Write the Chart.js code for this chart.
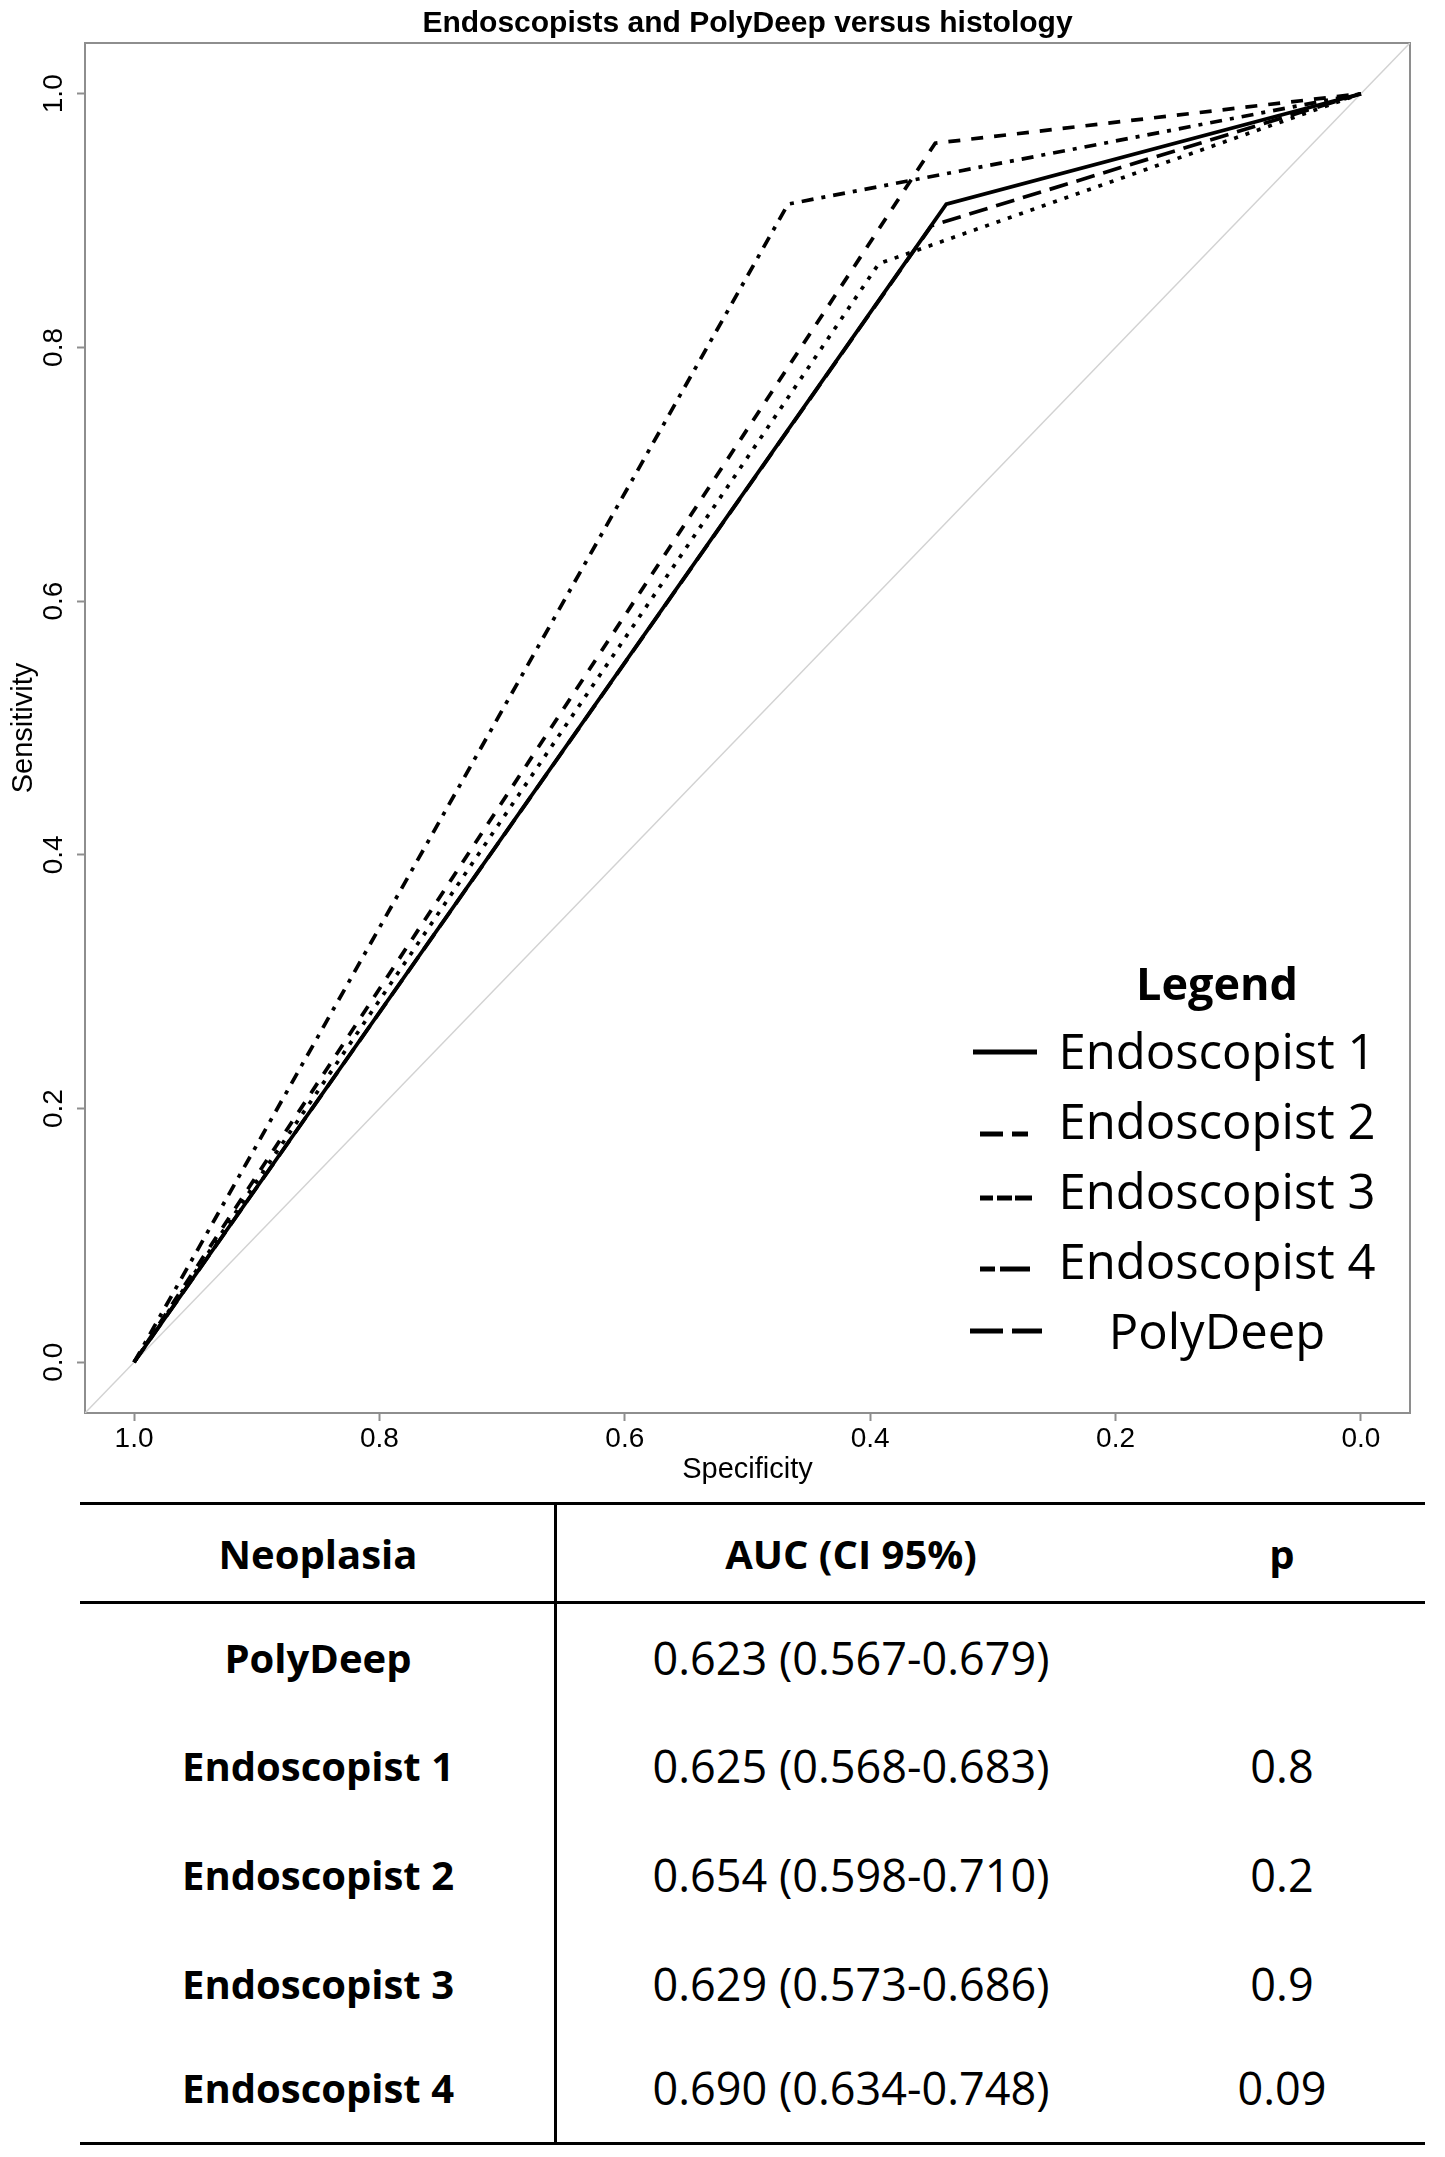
<!DOCTYPE html>
<html><head><meta charset="utf-8">
<script src="https://cdn.jsdelivr.net/npm/chart.js@4.4.1/dist/chart.umd.min.js"></script>
<style>
html,body{margin:0;padding:0;background:#fff;}
#wrap{position:relative;width:1445px;height:2157px;overflow:hidden;background:#fff;}
#chartBox{position:absolute;left:0;top:0;width:1445px;height:1495px;}
.rule{position:absolute;background:#000;}
.cell{position:absolute;width:560px;height:60px;line-height:60px;text-align:center;font-family:'Open Sans',sans-serif;color:#000;white-space:nowrap;}
.b{font-weight:700;font-size:40px;}
.r{font-weight:400;font-size:45px;}
</style></head><body>
<div id="wrap">
<div id="chartBox"><canvas id="c" width="1445" height="1495"></canvas></div>
<div id="table"></div>
</div>
<script>
// ---------- data ----------
const seriesNames = ['PolyDeep', 'Endoscopist 1', 'Endoscopist 2', 'Endoscopist 3', 'Endoscopist 4'];
const specPolyDeep = [1, 0.350, 0];
const sensPolyDeep = [0, 0.896, 1];
const specEndo1 = [1, 0.338, 0];
const sensEndo1 = [0, 0.913, 1];
const specEndo2 = [1, 0.347, 0];
const sensEndo2 = [0, 0.961, 1];
const specEndo3 = [1, 0.393, 0];
const sensEndo3 = [0, 0.866, 1];
const specEndo4 = [1, 0.467, 0];
const sensEndo4 = [0, 0.913, 1];
const tickValues = [0, 0.2, 0.4, 0.6, 0.8, 1.0];
const axisMin = -0.04;
const axisMax = 1.04;
const legendOrder = ['Endoscopist 1', 'Endoscopist 2', 'Endoscopist 3', 'Endoscopist 4', 'PolyDeep'];
const tableHeader = ['Neoplasia', 'AUC (CI 95%)', 'p'];
const tableRows = ['PolyDeep', 'Endoscopist 1', 'Endoscopist 2', 'Endoscopist 3', 'Endoscopist 4'];
const aucValues = ['0.623 (0.567-0.679)', '0.625 (0.568-0.683)', '0.654 (0.598-0.710)', '0.629 (0.573-0.686)', '0.690 (0.634-0.748)'];
const pValues = ['', '0.8', '0.2', '0.9', '0.09'];

// ---------- styles ----------
const dashFor = {
  'PolyDeep': [19, 9],
  'Endoscopist 1': [],
  'Endoscopist 2': [12, 11],
  'Endoscopist 3': [4, 8],
  'Endoscopist 4': [12, 8, 4, 8]
};
const specs = [specPolyDeep, specEndo1, specEndo2, specEndo3, specEndo4];
const senss = [sensPolyDeep, sensEndo1, sensEndo2, sensEndo3, sensEndo4];

const rocSets = seriesNames.map((name, i) => ({
  label: name,
  data: specs[i].map((s, k) => ({x: s, y: senss[i][k]})),
  borderColor: '#000',
  borderWidth: 3.7,
  borderDash: dashFor[name],
  borderCapStyle: 'butt',
  pointRadius: 0,
  tension: 0,
  fill: false,
  order: 1
}));
const diagonalSet = {
  label: 'diagonal',
  data: [{x: axisMax, y: 1 - axisMax}, {x: axisMin, y: 1 - axisMin}],
  borderColor: '#d2d2d2',
  borderWidth: 1.5,
  pointRadius: 0,
  fill: false,
  order: 10
};

const GRAY = '#8e8e8e';
const tickFont = {family: "'Liberation Sans', Arial, sans-serif", size: 28};
const titleFont = {family: "'Liberation Sans', Arial, sans-serif", size: 29};

const boxPlugin = {
  id: 'box',
  beforeDatasetsDraw(chart) {
    const {ctx, chartArea: a} = chart;
    ctx.save();
    ctx.strokeStyle = GRAY;
    ctx.lineWidth = 2;
    ctx.strokeRect(a.left, a.top, a.right - a.left, a.bottom - a.top);
    ctx.restore();
  }
};

// legend line samples (styling of the inserted legend box)
const legendSamples = {
  'Endoscopist 1': {dy: 0, segs: [[-244, -180]]},
  'Endoscopist 2': {dy: 12, segs: [[-237, -214], [-205, -189]]},
  'Endoscopist 3': {dy: 6, segs: [[-237, -224], [-220, -205], [-202, -185]]},
  'Endoscopist 4': {dy: 7, segs: [[-237, -222], [-217, -187]]},
  'PolyDeep': {dy: -1, segs: [[-247, -214], [-205, -175]]}
};
const legendPlugin = {
  id: 'legendBox',
  afterDraw(chart) {
    const {ctx, chartArea: a} = chart;
    const cx = a.right - 193;           // text centre
    const firstY = a.top + 1009;        // caps centre of first item
    const step = 70;
    ctx.save();
    ctx.fillStyle = '#000';
    ctx.textAlign = 'center';
    ctx.textBaseline = 'alphabetic';
    ctx.font = "700 45px 'Open Sans', sans-serif";
    ctx.fillText('Legend', cx, firstY - 52);
    ctx.font = "400 49px 'Open Sans', sans-serif";
    legendOrder.forEach((name, i) => {
      const y = firstY + i * step;
      ctx.fillText(name, cx, y + 17);
      const s = legendSamples[name];
      ctx.strokeStyle = '#000';
      ctx.lineWidth = 5;
      s.segs.forEach(([x0, x1]) => {
        ctx.beginPath();
        ctx.moveTo(cx + x0, y + s.dy);
        ctx.lineTo(cx + x1, y + s.dy);
        ctx.stroke();
      });
    });
    ctx.restore();
  }
};

const fixTicks = s => { s.ticks = tickValues.map(v => ({value: v})); };

new Chart(document.getElementById('c'), {
  type: 'line',
  data: {datasets: [diagonalSet, ...rocSets]},
  options: {
    responsive: false,
    devicePixelRatio: 1,
    animation: false,
    layout: {padding: {left: 0, right: 35, top: 0, bottom: 0}},
    plugins: {
      legend: {display: false},
      tooltip: {enabled: false},
      title: {
        display: true,
        fullSize: false,
        text: 'Endoscopists and PolyDeep versus histology',
        color: '#000',
        font: {family: "'Liberation Sans', Arial, sans-serif", size: 30, weight: 'bold'},
        padding: {top: 6, bottom: 1}
      }
    },
    scales: {
      x: {
        type: 'linear', reverse: true, min: axisMin, max: axisMax,
        afterBuildTicks: fixTicks,
        ticks: {includeBounds: false, autoSkip: false, minRotation: 0, maxRotation: 0, font: tickFont, color: '#000', padding: 1,
                callback: v => Number(v).toFixed(1)},
        grid: {drawOnChartArea: false, drawTicks: true, tickLength: 8, tickColor: GRAY, tickWidth: 2, color: GRAY},
        border: {display: true, color: GRAY, width: 2},
        title: {display: true, text: 'Specificity', color: '#000', font: titleFont, padding: {top: 0, bottom: 8}},
        afterFit: s => { s.height = 82; s.paddingLeft = 0; s.paddingRight = 0; }
      },
      y: {
        type: 'linear', min: axisMin, max: axisMax,
        afterBuildTicks: fixTicks,
        ticks: {includeBounds: false, autoSkip: false, minRotation: 90, maxRotation: 90, crossAlign: 'center', font: tickFont, color: '#000', padding: 3,
                callback: v => Number(v).toFixed(1)},
        grid: {drawOnChartArea: false, drawTicks: true, tickLength: 8, tickColor: GRAY, tickWidth: 2, color: GRAY},
        border: {display: true, color: GRAY, width: 2},
        title: {display: true, text: 'Sensitivity', color: '#000', font: titleFont, padding: {top: 7, bottom: 0}},
        afterFit: s => { s.width = 85; s.paddingTop = 0; s.paddingBottom = 0; }
      }
    }
  },
  plugins: [boxPlugin, legendPlugin]
});

// ---------- table ----------
const tbl = document.getElementById('table');
function rule(x, y, w, h) {
  const d = document.createElement('div');
  d.className = 'rule';
  d.style.left = x + 'px'; d.style.top = y + 'px';
  d.style.width = w + 'px'; d.style.height = h + 'px';
  tbl.appendChild(d);
}
function cell(text, cx, capY, cls) {
  const d = document.createElement('div');
  d.className = 'cell ' + cls;
  d.textContent = text;
  d.style.left = (cx - 280) + 'px';
  d.style.top = (capY - 31) + 'px';
  tbl.appendChild(d);
}
const colX = [318, 851, 1282];
const headY = 1555;
const rowY = [1659, 1767, 1876, 1985, 2089];
rule(80, 1502, 1345, 3);
rule(80, 1601, 1345, 3);
rule(80, 2142, 1345, 3);
rule(554, 1502, 3, 643);
tableHeader.forEach((t, i) => cell(t, colX[i], headY, 'b'));
tableRows.forEach((name, i) => {
  cell(name, colX[0], rowY[i], 'b');
  cell(aucValues[i], colX[1], rowY[i], 'r');
  if (pValues[i]) cell(pValues[i], colX[2], rowY[i], 'r');
});
</script>
</body></html>
